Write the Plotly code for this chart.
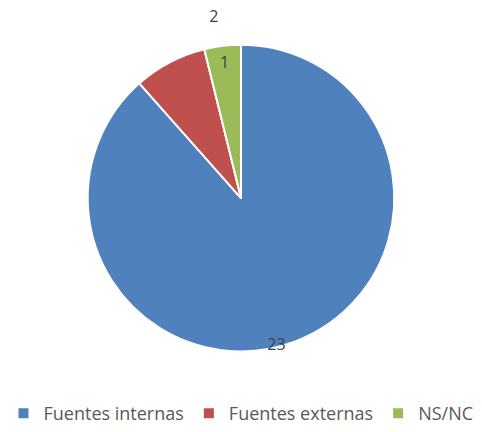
import plotly.graph_objects as go

categories = ["Fuentes internas", "Fuentes externas", "NS/NC"]
values = [23, 2, 1]
colors = ["#4F81BD", "#C0504D", "#9BBB59"]

LABEL_FONT = dict(family="Open Sans", size=16, color="#404040")

# Main pie (slices + label of the smallest slice)
main = go.Pie(
    labels=categories,
    values=values,
    sort=False,
    direction="clockwise",
    rotation=0,
    marker=dict(colors=colors, line=dict(color="white", width=2)),
    texttemplate=["", "", "%{value}"],
    textposition=["none", "none", "inside"],
    insidetextorientation="horizontal",
    insidetextfont=LABEL_FONT,
    domain=dict(x=[0.1805, 0.8195], y=[0.1875, 0.9005]),
    hoverinfo="label+value",
)

# Transparent helper pies: place the other labels like the original chart
helper_big = go.Pie(
    labels=categories,
    values=values,
    sort=False,
    direction="clockwise",
    rotation=12,
    marker=dict(colors=["rgba(0,0,0,0)"] * 3, line=dict(width=0)),
    texttemplate=["%{value}", "", ""],
    textposition=["outside", "none", "none"],
    outsidetextfont=LABEL_FONT,
    domain=dict(x=[0.2158, 0.7842], y=[0.2269, 0.8611]),
    showlegend=False,
    hoverinfo="skip",
)

helper_small = go.Pie(
    labels=categories,
    values=values,
    sort=False,
    direction="clockwise",
    rotation=22,
    marker=dict(colors=["rgba(0,0,0,0)"] * 3, line=dict(width=0)),
    texttemplate=["", "%{value}", ""],
    textposition=["none", "outside", "none"],
    outsidetextfont=LABEL_FONT,
    domain=dict(x=[0.1411, 0.8589], y=[0.1435, 0.9444]),
    showlegend=False,
    hoverinfo="skip",
)

fig = go.Figure([main, helper_big, helper_small])

fig.update_layout(
    width=482, height=432,
    margin=dict(l=0, r=0, t=0, b=0),
    paper_bgcolor="white",
    plot_bgcolor="white",
    showlegend=True,
    legend=dict(
        orientation="h",
        x=0.5, xanchor="center",
        y=0, yanchor="bottom",
        font=dict(family="Open Sans", size=18, color="#595959"),
        itemwidth=30,
    ),
)

fig.write_html("out.html", config={"displayModeBar": False},
               post_script="document.body.style.margin='0';")
